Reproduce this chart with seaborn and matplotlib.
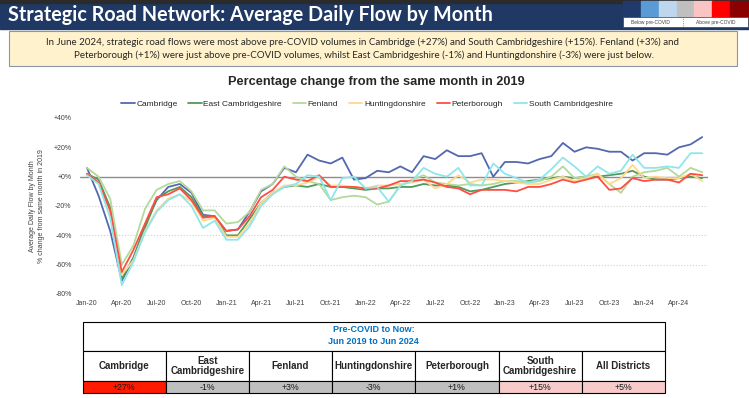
import numpy as np
import pandas as pd
import matplotlib.pyplot as plt
from matplotlib.patches import Rectangle
import seaborn as sns

sns.set_theme(style="white")
plt.rcParams['font.family'] = ['Liberation Sans', 'DejaVu Sans']

# monthly % change vs same month in 2019, Jan-20 .. Jun-24
months = pd.date_range('2020-01-01', periods=54, freq='MS')
month_labels = [m.strftime('%b-%y') for m in months]

districts = ['Cambridge', 'East Cambridgeshire', 'Fenland', 'Huntingdonshire',
             'Peterborough', 'South Cambridgeshire']
colours = ['#5468b0', '#4f9a5c', '#b4d99a', '#ffd88c', '#ff4d42', '#8fe6ea']

cambridge = [6, -13, -37, -71, -56, -33, -16, -7, -5, -11, -26, -27, -37, -36, -24, -10, -5, 6,
             3, 15, 11, 9, 13, -2, -1, 4, 3, 7, 3, 14, 12, 18, 14, 14, 16, 0,
             10, 10, 9, 12, 14, 23, 17, 20, 19, 17, 17, 11, 16, 16, 15, 20, 22, 27]
east_cambs = [2, -2, -21, -70, -55, -35, -15, -10, -7, -14, -27, -27, -40, -40, -29, -18, -11, -7,
              -6, -7, -5, -7, -7, -8, -9, -8, -8, -7, -7, -5, -6, -6, -7, -10, -9, -7,
              -5, -4, -3, -2, -1, 0, -1, 0, 0, 1, 2, 4, 0, -2, -2, -1, 0, -1]
fenland = [6, 0, -15, -60, -47, -22, -9, -5, -3, -10, -23, -23, -32, -31, -24, -9, -5, 7,
           0, -3, -5, -16, -14, -13, -14, -19, -17, -6, -2, 1, -4, -5, -6, -5, -6, -5,
           -3, -3, -4, -3, 0, 7, -1, 0, 2, -5, -11, 0, 3, 4, 6, 0, 6, 3]
hunts = [2, -4, -25, -67, -57, -37, -23, -15, -12, -17, -30, -28, -41, -41, -32, -18, -11, -6,
         -6, -4, 0, -6, -6, -7, -8, -6, -6, -5, -4, -2, -8, -5, 1, -4, -2, -2,
         -3, -4, -5, -5, -2, 0, -3, -1, 2, -5, -1, 8, -1, 0, -1, -1, 2, -3]
peterborough = [2, -4, -23, -65, -50, -32, -14, -12, -8, -16, -28, -27, -37, -36, -27, -14, -9, 0,
                -2, -3, 1, -7, -7, -7, -8, -8, -6, -3, -3, -2, -4, -7, -8, -12, -9, -9,
                -9, -10, -7, -7, -5, -2, -4, -2, 0, -9, -8, -1, -3, -2, -2, -4, 2, 1]
south_cambs = [1, -5, -28, -74, -58, -38, -24, -16, -12, -20, -35, -30, -43, -43, -34, -20, -12, -7,
               -5, 1, 0, -16, -1, 0, -8, -7, -17, -6, -3, 6, 2, 0, 6, -6, -6, 9,
               2, -1, -4, -2, 5, 13, 7, 0, 7, 2, 4, 15, 6, 6, 7, 6, 16, 16]

table_names = ['Cambridge', 'East\nCambridgeshire', 'Fenland', 'Huntingdonshire',
               'Peterborough', 'South\nCambridgeshire', 'All Districts']
table_values = [27, -1, 3, -3, 1, 15, 5]

scale_colours = ['#1f3a6b', '#5b9bd5', '#bdd7ee', '#bfbfbf', '#f8c4c4', '#ff0000', '#8b0000']

series = [cambridge, east_cambs, fenland, hunts, peterborough, south_cambs]
df = pd.DataFrame({'month': np.tile(np.arange(len(months)), len(districts)),
                   'district': np.repeat(districts, len(months)),
                   'change': np.concatenate(series)})

fig = plt.figure(figsize=(7.49, 3.98), dpi=100)

# background layer in pixel coordinates for header, text box and table
bg = fig.add_axes([0, 0, 1, 1])
bg.set_xlim(0, 749)
bg.set_ylim(398, 0)
bg.axis('off')

bg.add_patch(Rectangle((0, 0), 749, 29, color='#1f3864'))
bg.add_patch(Rectangle((0, 0), 749, 2.5, color='#2b2b2b'))
bg.text(8, 15, 'Strategic Road Network: Average Daily Flow by Month', color='white',
        fontsize=14.2, fontweight='bold', family=['Lato', 'DejaVu Sans'], va='center', ha='left')

# colour key top right
w = (748 - 623) / len(scale_colours)
for k, c in enumerate(scale_colours):
    bg.add_patch(Rectangle((623 + k * w, 1), w, 16, color=c))
bg.add_patch(Rectangle((623, 17), 125, 10, facecolor='white', edgecolor='#404040', lw=0.5))
bg.plot([683, 683], [17, 27], color='#404040', lw=0.5, ls=':')
bg.text(650, 22.5, 'Below pre-COVID', fontsize=3.5, ha='center', va='center', color='#404040')
bg.text(716, 22.5, 'Above pre-COVID', fontsize=3.5, ha='center', va='center', color='#404040')

bg.add_patch(Rectangle((9, 31), 728, 35, facecolor='#fff2cc', edgecolor='#8a96a8', lw=0.8))
summary = ['In June 2024, strategic road flows were most above pre-COVID volumes in Cambridge (+27%) '
           'and South Cambridgeshire (+15%). Fenland (+3%) and',
           'Peterborough (+1%) were just above pre-COVID volumes, whilst East Cambridgeshire (-1%) '
           'and Huntingdonshire (-3%) were just below.']
bg.text(363, 42, summary[0], fontsize=7, ha='center', va='center', family=['Lato', 'DejaVu Sans'])
bg.text(364, 55, summary[1], fontsize=7, ha='center', va='center', family=['Lato', 'DejaVu Sans'])

bg.text(376, 82, 'Percentage change from the same month in 2019', fontsize=9.2,
        fontweight='bold', ha='center', va='center', color='#262626')

# table
x0, cw = 82.5, 83.2
bg.add_patch(Rectangle((x0, 322), cw * 7, 29, facecolor='white', edgecolor='black', lw=0.8))
bg.text(x0 + cw * 3.5, 330, 'Pre-COVID to Now:', color='#0070c0', fontsize=6.5,
        fontweight='bold', ha='center', va='center')
bg.text(x0 + cw * 3.5, 341, 'Jun 2019 to Jun 2024', color='#0070c0', fontsize=6.5,
        fontweight='bold', ha='center', va='center')
for k, (name, v) in enumerate(zip(table_names, table_values)):
    if v >= 20:
        fc = '#ff1a00'
    elif v >= 5:
        fc = '#f8cbcb'
    else:
        fc = '#bfbfbf'
    bg.add_patch(Rectangle((x0 + k * cw, 351), cw, 30, facecolor='white', edgecolor='black', lw=0.8))
    bg.add_patch(Rectangle((x0 + k * cw, 381), cw, 12, facecolor=fc, edgecolor='black', lw=0.8))
    bg.text(x0 + (k + 0.5) * cw, 366, name, fontsize=7, fontweight='bold', ha='center',
            va='center', linespacing=1.1)
    bg.text(x0 + (k + 0.5) * cw, 387.5, '%+d%%' % v, fontsize=6.3, ha='center', va='center',
            color='#1a1a1a')

# main chart
ax = fig.add_axes([80 / 749, 1 - 294 / 398, 628 / 749, 176 / 398])
ax.patch.set_alpha(0)
for y in (-20, -40, -60):
    ax.axhline(y, color='#d0d0d0', ls=':', lw=0.8, zorder=0)
ax.axhline(0, color='#8c8c8c', lw=1.0, zorder=1)

sns.lineplot(data=df, x='month', y='change', hue='district', hue_order=districts,
             palette=dict(zip(districts, colours)), linewidth=1.3, ax=ax, zorder=2)

ax.set_xlim(-0.6, 53.5)
ax.set_ylim(-80, 40)
ax.set_yticks(range(-80, 41, 20))
ax.set_yticklabels(['%+d%%' % t for t in range(-80, 41, 20)])
ax.set_xticks(range(0, 54, 3))
ax.set_xticklabels(month_labels[::3])
ax.tick_params(labelsize=5, length=0, colors='#404040')
ax.tick_params(axis='y', pad=6)
ax.tick_params(axis='x', pad=4)
ax.set_xlabel('')
ax.set_ylabel('Average Daily Flow by Month\n% change from same month in 2019', fontsize=5,
              color='#404040', linespacing=1.3)
ax.yaxis.set_label_coords(-35 / 628, 0.5)
sns.despine(ax=ax, left=True, bottom=True)

handles, labels = ax.get_legend_handles_labels()
ax.legend(handles=handles, labels=labels, ncol=6, frameon=False, fontsize=6, loc='center',
          bbox_to_anchor=(367 / 749, 1 - 104 / 398), bbox_transform=fig.transFigure,
          handlelength=1.6, handletextpad=0.2, columnspacing=1.3)

fig.savefig('out.png', dpi=100)
